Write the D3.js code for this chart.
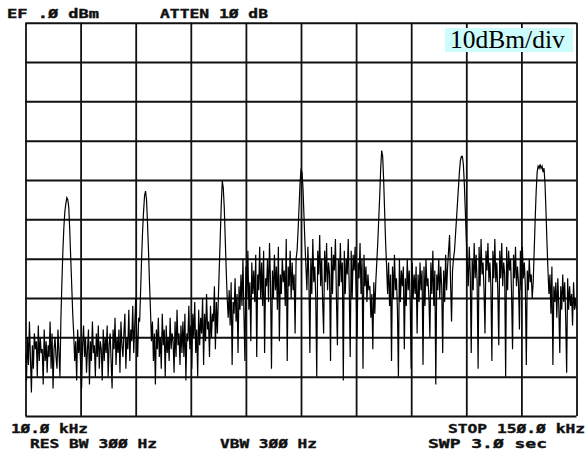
<!DOCTYPE html>
<html>
<head>
<meta charset="utf-8">
<script src="https://cdn.jsdelivr.net/npm/d3@7"></script>
<style>
  html, body { margin: 0; padding: 0; background: #fff; }
  svg { display: block; }
  .inst { font-family: "DejaVu Sans Mono", monospace; font-weight: bold; font-size: 11.5px; fill: #111; stroke: #111; stroke-width: 0.35px; }
</style>
</head>
<body>
<div id="chart"></div>
<script>
// analyzer settings (x in kHz, y in dBm)
const startFreq = 10;
const stopFreq = 150;
const refLevel = 0;
const dbPerDiv = 10;
const freqStep = 0.25;

// trace, one value every 0.25 kHz (one row = 10 kHz)
const traceDbm = [
  -84, -91, -80, -87, -76, -85, -94, -82, -88, -79, -83, -81, -90, -77, -86, -80, -84, -83, -92, -78, -86, -81, -89, -82, -85, -76, -88, -79, -93, -83, -80, -85, -88, -78, -84, -90, -75, -66, -58, -52,
  -48, -46, -44.5, -45, -47, -53, -60, -67, -74, -79, -86, -81, -91, -78, -84, -80, -87, -93, -82, -77, -85, -80, -89, -83, -78, -92, -81, -86, -76, -84, -82, -90, -79, -85, -77, -88, -81, -83, -91, -78,
  -86, -80, -84, -77, -90, -82, -79, -86, -93, -78, -83, -75, -87, -80, -84, -78, -89, -76, -82, -85, -79, -74, -88, -80, -83, -73, -86, -78, -81, -72, -84, -77, -70, -79, -85, -75, -76, -68, -60, -53,
  -48, -44, -42.8, -45, -51, -58, -66, -73, -81, -76, -86, -79, -92, -78, -83, -75, -85, -80, -88, -74, -82, -78, -90, -77, -84, -80, -86, -75, -83, -79, -81, -89, -76, -85, -73, -82, -79, -87, -77, -84,
  -76, -85, -74, -91, -79, -81, -72, -83, -77, -88, -74, -80, -71, -84, -78, -90, -73, -82, -75, -79, -70, -87, -74, -81, -69, -78, -76, -85, -72, -80, -74, -76, -67, -83, -71, -79, -70, -62, -54, -46,
  -40.2, -42, -47, -55, -63, -70, -75, -68, -77, -66, -87, -71, -74, -65, -76, -69, -84, -67, -73, -64, -72, -60, -74, -86, -62, -70, -58, -73, -66, -81, -61, -69, -63, -71, -59, -85, -64, -68, -57, -70,
  -61, -72, -58, -84, -65, -67, -60, -71, -56, -66, -88, -63, -70, -59, -68, -62, -73, -57, -81, -64, -69, -60, -66, -63, -72, -55, -86, -62, -67, -58, -70, -61, -68, -64, -79, -60, -58, -53, -47, -41,
  -37.5, -38, -42, -49, -56, -62, -68, -57, -65, -84, -60, -69, -55, -66, -62, -70, -90, -58, -64, -54, -67, -60, -71, -79, -58, -66, -56, -68, -61, -64, -86, -57, -69, -59, -63, -55, -70, -82, -60, -67,
  -56, -66, -61, -91, -58, -69, -60, -64, -55, -67, -85, -58, -70, -59, -63, -57, -68, -80, -61, -65, -56, -69, -60, -88, -59, -67, -62, -71, -64, -68, -67, -75, -69, -83, -66, -74, -66, -61, -56, -50,
  -44, -37, -32.5, -34, -40, -48, -56, -62, -69, -61, -72, -64, -86, -62, -70, -59, -68, -65, -73, -90, -60, -71, -63, -67, -62, -83, -65, -72, -60, -68, -63, -71, -88, -61, -70, -64, -69, -62, -79, -64,
  -71, -61, -68, -63, -87, -62, -72, -60, -67, -65, -70, -80, -61, -69, -58, -72, -63, -92, -64, -68, -60, -70, -62, -67, -84, -63, -71, -59, -68, -62, -58, -54, -66, -76, -63, -60, -58, -54, -50, -46,
  -42, -38, -35, -34, -34, -36, -41, -48, -55, -61, -67, -57, -64, -84, -60, -68, -56, -65, -59, -66, -88, -57, -67, -55, -64, -61, -68, -79, -58, -63, -56, -66, -61, -67, -86, -58, -65, -55, -66, -61,
  -68, -82, -58, -65, -56, -67, -61, -64, -90, -57, -68, -58, -63, -60, -69, -83, -59, -65, -57, -67, -62, -66, -78, -58, -68, -57, -65, -61, -67, -87, -63, -68, -60, -66, -64, -70, -66, -58, -50, -43,
  -38, -36.5, -37, -36, -37, -36.5, -38, -37, -41, -48, -56, -63, -69, -64, -74, -62, -87, -67, -71, -66, -75, -65, -72, -84, -67, -73, -64, -71, -66, -75, -89, -65, -73, -67, -72, -69, -77, -66, -73, -70,
  -73
];

const topLabels = ["EF .Ø dBm", "ATTEN 1Ø dB"];
const bottomLabels = ["1Ø.Ø kHz", "RES BW 3ØØ Hz", "VBW 3ØØ Hz", "STOP 15Ø.Ø kHz", "SWP 3.Ø  sec"];
const scaleNote = "10dBm/div";

const width = 586, height = 455;
const plot = { left: 25.5, right: 576.5, top: 22.7, bottom: 416 };

const svg = d3.select("#chart").append("svg")
    .attr("width", width)
    .attr("height", height);

const x = d3.scaleLinear().domain([startFreq, stopFreq]).range([plot.left, plot.right]);
const y = d3.scaleLinear().domain([refLevel - 10 * dbPerDiv, refLevel]).range([plot.bottom, plot.top]);

const freqTicks = d3.range(0, 11).map(i => startFreq + i * (stopFreq - startFreq) / 10);
const levelTicks = d3.range(0, 11).map(i => refLevel - i * dbPerDiv);

// graticule
svg.append("g")
    .attr("transform", `translate(0,${plot.bottom})`)
    .call(d3.axisBottom(x).tickValues(freqTicks).tickSize(-(plot.bottom - plot.top)).tickFormat(""))
    .call(g => g.select(".domain").remove())
    .call(g => g.selectAll(".tick line").attr("stroke", "#111").attr("stroke-width", 1.8));

svg.append("g")
    .attr("transform", `translate(${plot.left},0)`)
    .call(d3.axisLeft(y).tickValues(levelTicks).tickSize(-(plot.right - plot.left)).tickFormat(""))
    .call(g => g.select(".domain").remove())
    .call(g => g.selectAll(".tick line").attr("stroke", "#111").attr("stroke-width", 2));

svg.append("defs").append("clipPath").attr("id", "clip")
    .append("rect")
    .attr("x", plot.left).attr("y", plot.top)
    .attr("width", plot.right - plot.left).attr("height", plot.bottom - plot.top);

const line = d3.line()
    .x((d, i) => x(startFreq + i * freqStep))
    .y(d => y(d));

svg.append("path")
    .datum(traceDbm)
    .attr("clip-path", "url(#clip)")
    .attr("fill", "none")
    .attr("stroke", "#000")
    .attr("stroke-width", 1.2)
    .attr("stroke-linejoin", "miter")
    .attr("d", line);

// instrument annotations
const topPos = [[7, 18, 92], [160, 18, 108]];
topLabels.forEach((t, i) => {
    svg.append("text").attr("class", "inst")
        .attr("x", topPos[i][0]).attr("y", topPos[i][1])
        .attr("textLength", topPos[i][2]).attr("lengthAdjust", "spacingAndGlyphs")
        .text(t);
});

const bottomPos = [[11, 433, 77], [30, 448, 127], [220, 448, 97], [448, 433, 137], [428, 448, 119]];
bottomLabels.forEach((t, i) => {
    svg.append("text").attr("class", "inst")
        .attr("x", bottomPos[i][0]).attr("y", bottomPos[i][1])
        .attr("textLength", bottomPos[i][2]).attr("lengthAdjust", "spacingAndGlyphs")
        .text(t);
});

svg.append("rect")
    .attr("x", 445).attr("y", 28).attr("width", 128).attr("height", 24)
    .attr("fill", "#ccfcfc");

svg.append("text")
    .attr("x", 450).attr("y", 48)
    .attr("font-family", "Liberation Serif, serif")
    .attr("font-size", 25.5)
    .attr("fill", "#000")
    .text(scaleNote);
</script>
</body>
</html>
